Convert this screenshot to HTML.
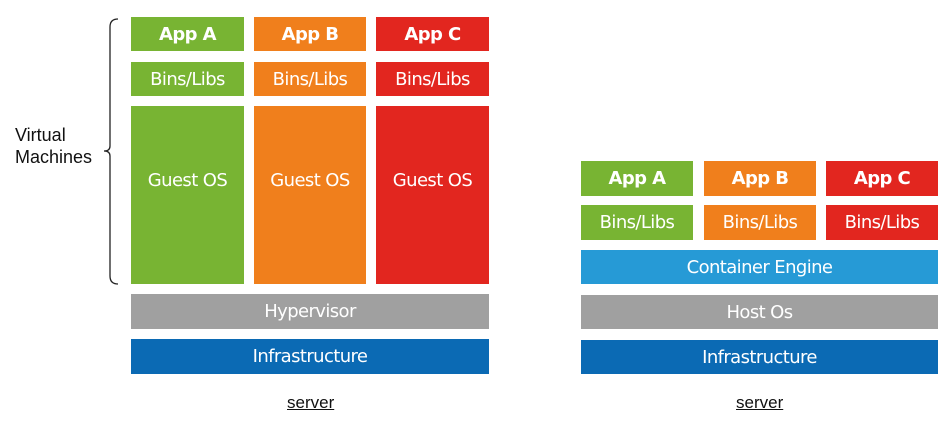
<!DOCTYPE html>
<html><head><style>
body{margin:0;width:952px;height:429px;background:#fff;position:relative;overflow:hidden;font-family:"DejaVu Sans","Liberation Sans",sans-serif}
.b{position:absolute;color:#fff;display:flex;align-items:center;justify-content:center;font-size:18px;letter-spacing:-0.6px}
.bold{font-weight:bold}
.g{background:#78b433}.o{background:#f07f1c}.r{background:#e2261f}.gr{background:#a0a0a0}.bl{background:#0b6ab4}.lb{background:#269ad6}
.os{align-items:flex-start;padding-top:64px;box-sizing:border-box}
.t{position:absolute;font-family:"Liberation Sans",sans-serif;font-size:17px;color:#111}
</style></head><body>
<div class="b g bold" style="left:131px;top:17px;width:113px;height:34px">App A</div>
<div class="b o bold" style="left:254px;top:17px;width:112px;height:34px">App B</div>
<div class="b r bold" style="left:376px;top:17px;width:113px;height:34px">App C</div>
<div class="b g" style="left:131px;top:62px;width:113px;height:34px">Bins/Libs</div>
<div class="b o" style="left:254px;top:62px;width:112px;height:34px">Bins/Libs</div>
<div class="b r" style="left:376px;top:62px;width:113px;height:34px">Bins/Libs</div>
<div class="b g os" style="left:131px;top:106px;width:113px;height:178px">Guest OS</div>
<div class="b o os" style="left:254px;top:106px;width:112px;height:178px">Guest OS</div>
<div class="b r os" style="left:376px;top:106px;width:113px;height:178px">Guest OS</div>
<div class="b gr" style="left:131px;top:294px;width:358px;height:35px">Hypervisor</div>
<div class="b bl" style="left:131px;top:339px;width:358px;height:35px">Infrastructure</div>

<div class="b g bold" style="left:581px;top:161px;width:112px;height:35px">App A</div>
<div class="b o bold" style="left:704px;top:161px;width:112px;height:35px">App B</div>
<div class="b r bold" style="left:826px;top:161px;width:112px;height:35px">App C</div>
<div class="b g" style="left:581px;top:205px;width:112px;height:35px">Bins/Libs</div>
<div class="b o" style="left:704px;top:205px;width:112px;height:35px">Bins/Libs</div>
<div class="b r" style="left:826px;top:205px;width:112px;height:35px">Bins/Libs</div>
<div class="b lb" style="left:581px;top:250px;width:357px;height:34px">Container Engine</div>
<div class="b gr" style="left:581px;top:295px;width:357px;height:34px">Host Os</div>
<div class="b bl" style="left:581px;top:340px;width:357px;height:34px">Infrastructure</div>

<svg style="position:absolute;left:0;top:0" width="952" height="429">
<path d="M118 19 Q110 19 110 27 L110 146 Q110 151 104 151 Q110 151 110 156 L110 276 Q110 284 118 284" fill="none" stroke="#222" stroke-width="1.3"/>
</svg>
<div class="t" style="left:15px;top:124px;line-height:22px;font-size:18px">Virtual<br>Machines</div>
<div class="t" style="left:287px;top:393px;text-decoration:underline">server</div>
<div class="t" style="left:736px;top:393px;text-decoration:underline">server</div>
</body></html>
